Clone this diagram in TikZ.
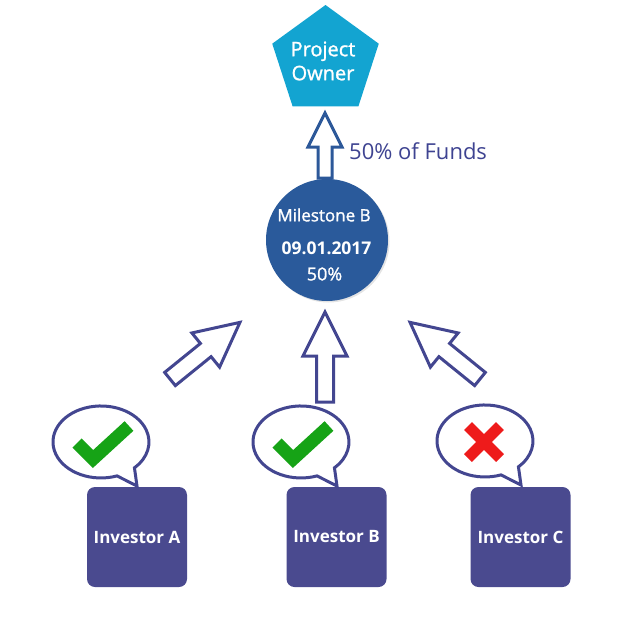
\documentclass[tikz,border=0pt]{standalone}
\usepackage{fontspec}
\setmainfont{Open Sans}
\newfontfamily\semifont[FakeBold=1.2]{Open Sans}
\usetikzlibrary{shapes.geometric}
\definecolor{pentc}{HTML}{13A4D1}
\definecolor{circc}{HTML}{2A5A9B}
\definecolor{topc}{HTML}{2C5899}
\definecolor{arrc}{HTML}{434690}
\definecolor{boxc}{HTML}{4A4A8F}
\definecolor{txtc}{HTML}{3E4391}
\definecolor{chkc}{HTML}{16A316}
\definecolor{crossc}{HTML}{EE1B1B}
\tikzset{
  pics/blockarrow/.style n args={5}{code={
    \draw[line width=3pt, draw=#5, fill=white, line join=miter]
      (0,-#4) -- ({#1-#2},-#4) -- ({#1-#2},-#3) -- (#1,0) -- ({#1-#2},#3)
      -- ({#1-#2},#4) -- (0,#4) -- cycle;}},
  pics/bubble/.style={code={
    \draw[line width=3pt, draw=arrc, fill=white, line join=miter]
      (16,33.9) arc[start angle=70.5, end angle=405.8, x radius=48, y radius=36]
      -- (36,44) -- cycle;}},
  pics/checkmark/.style={code={
    \draw[line width=13pt, draw=chkc, line join=miter, line cap=butt]
      (-24,1) -- (-8,17) -- (28,-16);}},
  pics/crossmark/.style={code={
    \draw[line width=11pt, draw=crossc, line cap=butt]
      (-16,-16) -- (16,16) (-16,16) -- (16,-16);}},
  invbox/.style={rectangle, rounded corners=8pt, fill=boxc, minimum width=100pt,
    minimum height=100pt, text=white, font=\fontsize{17}{20}\selectfont\bfseries},
  wtxt/.style={text=white, inner sep=0pt},
}
\begin{document}
\begin{tikzpicture}[x=1pt,y=-1pt]
\useasboundingbox (0,0) rectangle (640,640);
% project owner
\node[regular polygon, regular polygon sides=5, minimum size=112pt, fill=pentc,
      inner sep=0pt] (po) at (325.5,61) {};
\node[wtxt, align=center, font=\semifont\fontsize{20}{24}\selectfont] (pot) at (323,61) {Project\\Owner};
% milestone
\fill[gray!35, opacity=0.6] (328.5,241.5) circle (61);
\node[circle, fill=circc, minimum size=122pt, inner sep=0pt] (ms) at (327,240) {};
\node[wtxt, font=\semifont\fontsize{17}{20}\selectfont] (ms1) at (324,215) {Milestone B};
\node[wtxt, font=\fontsize{17.5}{20}\selectfont\bfseries] (ms2) at (326.5,248) {09.01.2017};
\node[wtxt, font=\semifont\fontsize{18}{21}\selectfont] (ms3) at (324.5,274) {50\%};
% top arrow
\pic (atop) [rotate=90] at (325,178) {blockarrow={65}{34}{17}{7}{topc}};
\node[anchor=west, text=txtc, inner sep=0pt, font=\fontsize{22}{26}\selectfont] (funds) at (349,151) {50\% of Funds};
% investor arrows
\pic (aA) [rotate=39] at (170,379) {blockarrow={90}{44}{22}{8.5}{arrc}};
\pic (aB) [rotate=90] at (325,402) {blockarrow={90}{44}{22}{8.5}{arrc}};
\pic (aC) [rotate=141] at (480,379) {blockarrow={90}{44}{22}{8.5}{arrc}};
% investors
\node[invbox] (iA) at (137,537) {Investor A};
\node[invbox] (iB) at (336.5,537) {Investor B};
\node[invbox] (iC) at (520.5,537) {Investor C};
% bubbles
\pic (bA) at (101,442) {bubble};
\pic (bB) at (301,442) {bubble};
\pic (bC) at (485,441) {bubble};
\pic (cA) at (101,442) {checkmark};
\pic (cB) at (301,442) {checkmark};
\pic (xC) at (484,442) {crossmark};
\end{tikzpicture}
\end{document}
